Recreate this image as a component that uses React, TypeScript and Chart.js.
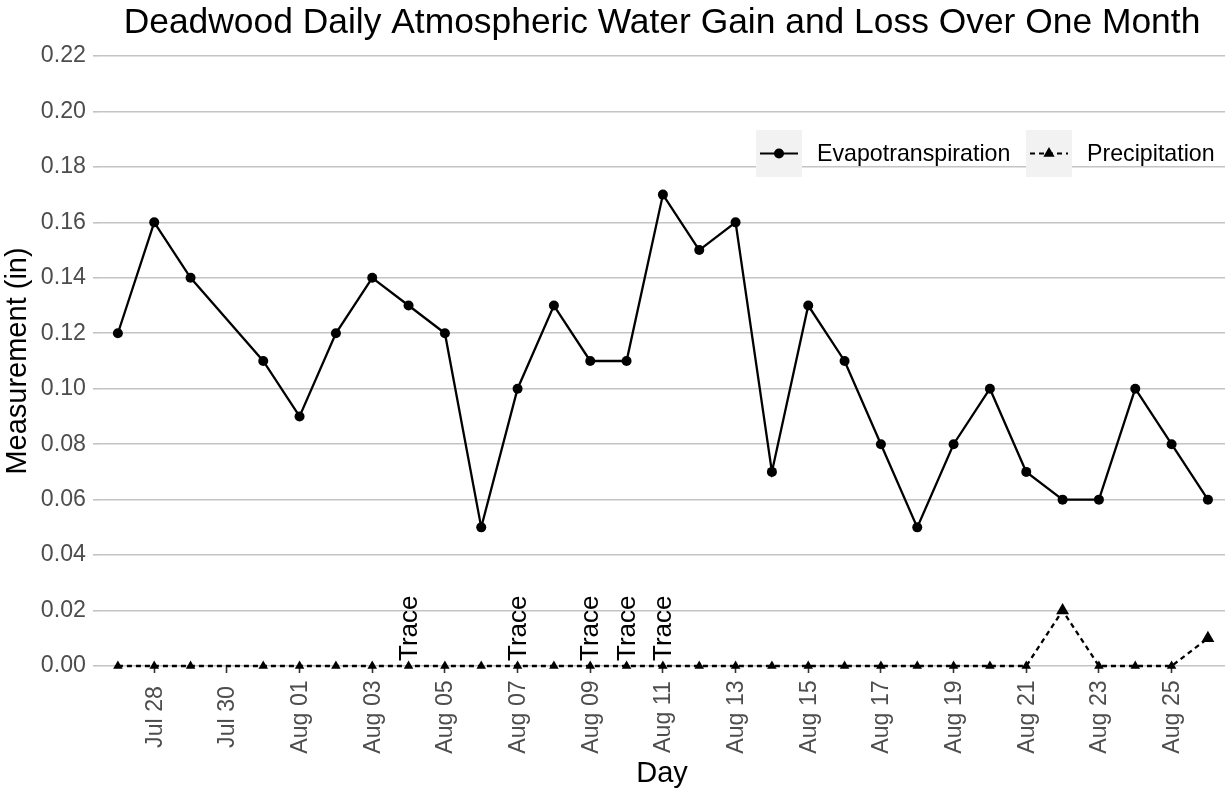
import React, { useEffect, useRef } from 'react';
import { Chart, registerables } from 'chart.js';

Chart.register(...registerables);

const FONT = '"Liberation Sans", Arial, sans-serif';

const dayLabels = [
  'Jul 27', 'Jul 28', 'Jul 29', 'Jul 30', 'Jul 31',
  'Aug 01', 'Aug 02', 'Aug 03', 'Aug 04', 'Aug 05', 'Aug 06', 'Aug 07', 'Aug 08', 'Aug 09', 'Aug 10',
  'Aug 11', 'Aug 12', 'Aug 13', 'Aug 14', 'Aug 15', 'Aug 16', 'Aug 17', 'Aug 18', 'Aug 19', 'Aug 20',
  'Aug 21', 'Aug 22', 'Aug 23', 'Aug 24', 'Aug 25', 'Aug 26',
];

const evapotranspiration: (number | null)[] = [
  0.12, 0.16, 0.14, null, 0.11,
  0.09, 0.12, 0.14, 0.13, 0.12, 0.05, 0.10, 0.13, 0.11, 0.11,
  0.17, 0.15, 0.16, 0.07, 0.13, 0.11, 0.08, 0.05, 0.08, 0.10,
  0.07, 0.06, 0.06, 0.10, 0.08, 0.06,
];

const precipitation: (number | null)[] = [
  0, 0, 0, null, 0,
  0, 0, 0, 0, 0, 0, 0, 0, 0, 0,
  0, 0, 0, 0, 0, 0, 0, 0, 0, 0,
  0, 0.02, 0, 0, 0, 0.01,
];

const traceDays = ['Aug 04', 'Aug 07', 'Aug 09', 'Aug 10', 'Aug 11'];

const yTickValues = [0, 0.02, 0.04, 0.06, 0.08, 0.1, 0.12, 0.14, 0.16, 0.18, 0.2, 0.22];

const legendItems = [
  { label: 'Evapotranspiration', dash: [] as number[], marker: 'circle' },
  { label: 'Precipitation', dash: [5, 4], marker: 'triangle' },
];

const tracePlugin = {
  id: 'traceLabels',
  afterDatasetsDraw(chart: any) {
    const ctx = chart.ctx;
    const xs = chart.scales.x;
    const ys = chart.scales.y;
    ctx.save();
    ctx.fillStyle = '#000';
    ctx.font = `26px ${FONT}`;
    ctx.textAlign = 'left';
    ctx.textBaseline = 'middle';
    traceDays.forEach((d) => {
      const i = dayLabels.indexOf(d);
      const x = xs.getPixelForValue(i);
      const y = ys.getPixelForValue(precipitation[i] ?? 0) - 5;
      ctx.save();
      ctx.translate(x, y);
      ctx.rotate(-Math.PI / 2);
      ctx.fillText('Trace', 0, 1);
      ctx.restore();
    });
    ctx.restore();
  },
};

const xLabelPlugin = {
  id: 'xCenteredLabels',
  afterDraw(chart: any) {
    const ctx = chart.ctx;
    const xs = chart.scales.x;
    const a = chart.chartArea;
    ctx.save();
    ctx.fillStyle = '#4d4d4d';
    ctx.font = `23.2px ${FONT}`;
    ctx.textAlign = 'center';
    ctx.textBaseline = 'middle';
    xs.ticks.forEach((t: any) => {
      const x = xs.getPixelForValue(t.value);
      const label = dayLabels[t.value] ?? '';
      ctx.save();
      ctx.translate(x + 1, a.bottom + 51);
      ctx.rotate(-Math.PI / 2);
      ctx.fillText(label, 0, 0);
      ctx.restore();
    });
    ctx.restore();
  },
};

const legendPlugin = {
  id: 'customLegend',
  afterDraw(chart: any) {
    const ctx = chart.ctx;
    const a = chart.chartArea;
    const boxW = 46;
    const boxH = 47;
    const top = a.top + 74;
    const starts = [a.right - 469, a.right - 199];
    ctx.save();
    legendItems.forEach((it, k) => {
      const bx = starts[k];
      ctx.fillStyle = '#f2f2f2';
      ctx.fillRect(bx, top, boxW, boxH);
      const cy = top + boxH / 2;
      const cx = bx + boxW / 2;
      ctx.strokeStyle = '#000';
      ctx.lineWidth = 2.2;
      ctx.setLineDash(it.dash);
      ctx.beginPath();
      ctx.moveTo(bx + 4, cy);
      ctx.lineTo(bx + boxW - 4, cy);
      ctx.stroke();
      ctx.setLineDash([]);
      ctx.fillStyle = '#000';
      ctx.beginPath();
      if (it.marker === 'circle') {
        ctx.arc(cx, cy, 5, 0, Math.PI * 2);
      } else {
        const r = 6.5;
        for (let j = 0; j < 3; j++) {
          const ang = (j * 2 * Math.PI) / 3;
          const px = cx + Math.sin(ang) * r;
          const py = cy - Math.cos(ang) * r;
          if (j === 0) ctx.moveTo(px, py);
          else ctx.lineTo(px, py);
        }
        ctx.closePath();
      }
      ctx.fill();
      ctx.font = `23.2px ${FONT}`;
      ctx.textAlign = 'left';
      ctx.textBaseline = 'middle';
      ctx.fillText(it.label, bx + 61, cy + 1);
    });
    ctx.restore();
  },
};

export default function App() {
  const ref = useRef<HTMLCanvasElement | null>(null);

  useEffect(() => {
    if (!ref.current) return;
    const chart = new Chart(ref.current, {
      type: 'line',
      data: {
        datasets: [
          {
            label: 'Evapotranspiration',
            data: evapotranspiration.map((v, i) => ({ x: i, y: v })) as any,
            borderColor: '#000',
            backgroundColor: '#000',
            borderWidth: 2.3,
            pointStyle: 'circle',
            pointRadius: 5,
            pointBorderWidth: 0,
            pointBackgroundColor: '#000',
            spanGaps: true,
            tension: 0,
            clip: false as any,
          },
          {
            label: 'Precipitation',
            data: precipitation.map((v, i) => ({ x: i, y: v })) as any,
            borderColor: '#000',
            backgroundColor: '#000',
            borderWidth: 2.3,
            borderDash: [5, 4],
            pointStyle: 'triangle',
            pointRadius: (c: any) => (c.raw && c.raw.y > 0 ? 7.5 : 5.5),
            pointBorderWidth: 0,
            pointBackgroundColor: '#000',
            spanGaps: true,
            tension: 0,
            clip: false as any,
          },
        ],
      },
      options: {
        animation: false,
        responsive: false,
        events: [],
        layout: { padding: 0, autoPadding: false } as any,
        plugins: {
          legend: { display: false },
          tooltip: { enabled: false },
          title: {
            display: true,
            fullSize: false,
            text: 'Deadwood Daily Atmospheric Water Gain and Loss Over One Month',
            color: '#000',
            font: { family: FONT, size: 35.4, weight: 'normal' },
            padding: { top: 2.2, bottom: 11.3 },
          },
        },
        scales: {
          x: {
            type: 'linear',
            min: -0.52,
            max: 30.47,
            afterBuildTicks: (s: any) => {
              s.ticks = dayLabels
                .map((_, i) => i)
                .filter((i) => i % 2 === 1)
                .map((v) => ({ value: v }));
            },
            afterFit: (s: any) => {
              s.height = 125;
              s.paddingLeft = 0;
              s.paddingRight = 0;
            },
            ticks: {
              display: false,
              autoSkip: false,
            },
            grid: {
              display: true,
              drawOnChartArea: false,
              drawTicks: true,
              tickLength: 7,
              tickColor: '#333',
              tickWidth: 1.6,
            },
            border: { display: false },
            title: {
              display: true,
              text: 'Day',
              color: '#000',
              font: { family: FONT, size: 29 },
              padding: { top: 0, bottom: 0 },
            },
          },
          y: {
            type: 'linear',
            min: 0,
            max: 0.22,
            afterBuildTicks: (s: any) => {
              s.ticks = yTickValues.map((v) => ({ value: v }));
            },
            afterFit: (s: any) => {
              s.width = 99;
            },
            ticks: {
              color: '#4d4d4d',
              padding: 7,
              font: { family: FONT, size: 23.2 },
              callback: (v: any) => Number(v).toFixed(2),
            },
            grid: {
              color: '#c4c4c4',
              lineWidth: 1.6,
              tickLength: 6,
              tickColor: '#c4c4c4',
            },
            border: { display: false },
            title: {
              display: true,
              text: 'Measurement (in)',
              color: '#000',
              font: { family: FONT, size: 29 },
              padding: { top: 1, bottom: 0 },
            },
          },
        },
      },
      plugins: [tracePlugin, xLabelPlugin, legendPlugin],
    });
    return () => chart.destroy();
  }, []);

  return (
    <div style={{ position: 'fixed', left: 0, top: 0, width: 1225, height: 791, background: '#fff' }}>
      <canvas ref={ref} width={1225} height={791} style={{ display: 'block' }} />
    </div>
  );
}
